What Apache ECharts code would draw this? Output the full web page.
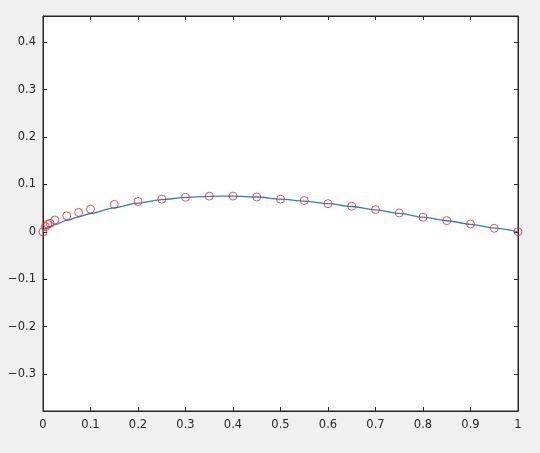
<!DOCTYPE html>
<html>
<head>
<meta charset="utf-8">
<script src="https://cdn.jsdelivr.net/npm/echarts@6/dist/echarts.min.js"></script>
<style>html,body{margin:0;padding:0;background:#f0f0f0}#c{width:540px;height:453px}</style>
</head>
<body>
<div id="c"></div>
<script>
// Data
const ptX = [0, 0.005, 0.01, 0.015, 0.025, 0.05, 0.075, 0.1, 0.15, 0.2, 0.25, 0.3, 0.35, 0.4, 0.45, 0.5, 0.55, 0.6, 0.65, 0.7, 0.75, 0.8, 0.85, 0.9, 0.95, 1.0];
const ptY = [0, 0.011, 0.016, 0.018, 0.025, 0.034, 0.041, 0.048, 0.058, 0.064, 0.069, 0.073, 0.0755, 0.0755, 0.0736, 0.069, 0.066, 0.0595, 0.054, 0.047, 0.040, 0.031, 0.0237, 0.0167, 0.0076, 0.0004];
const lineX = [0, 0.005, 0.0125, 0.025, 0.05, 0.075, 0.1, 0.15, 0.2, 0.25, 0.3, 0.35, 0.4, 0.45, 0.5, 0.55, 0.6, 0.65, 0.7, 0.75, 0.8, 0.85, 0.9, 0.95, 1.0];
const lineY = [0, 0.0062, 0.0102, 0.0152, 0.0242, 0.0318, 0.0388, 0.0508, 0.0605, 0.0680, 0.0728, 0.0750, 0.0755, 0.0736, 0.0692, 0.0650, 0.0595, 0.0535, 0.0465, 0.0390, 0.0310, 0.0235, 0.0160, 0.0078, 0];
const xTicks = [0, 0.1, 0.2, 0.3, 0.4, 0.5, 0.6, 0.7, 0.8, 0.9, 1];
const xTickLabels = ['0', '0.1', '0.2', '0.3', '0.4', '0.5', '0.6', '0.7', '0.8', '0.9', '1'];
const yTicks = [-0.3, -0.2, -0.1, 0, 0.1, 0.2, 0.3, 0.4];
const yTickLabels = ['\u22120.3', '\u22120.2', '\u22120.1', '0', '0.1', '0.2', '0.3', '0.4'];

function lookup(ticks, labels, v) {
  for (let i = 0; i < ticks.length; i++) if (Math.abs(ticks[i] - v) < 1e-6) return labels[i];
  return '';
}
const axColor = '#262626';
const font = { fontFamily: 'DejaVu Sans', fontSize: 11.5, color: '#262626' };
const chart = echarts.init(document.getElementById('c'), null, { renderer: 'canvas' });
const xBase = {
  type: 'value', min: 0, max: 1,
  axisLine: { show: true, onZero: false, lineStyle: { color: axColor, width: 1 } },
  splitLine: { show: false }
};
const yBase = {
  type: 'value', min: -0.378, max: 0.4555,
  axisLine: { show: true, onZero: false, lineStyle: { color: axColor, width: 1 } },
  splitLine: { show: false }
};
chart.setOption({
  backgroundColor: '#f0f0f0',
  animation: false,
  grid: { left: 43, top: 16, right: 22, bottom: 42, show: true, backgroundColor: '#ffffff', borderColor: axColor, borderWidth: 1, containLabel: false },
  xAxis: [
    Object.assign({}, xBase, {
      position: 'bottom',
      axisTick: { show: true, inside: true, length: 4, customValues: xTicks, lineStyle: { color: axColor } },
      axisLabel: Object.assign({ show: true, margin: 8, customValues: xTicks, formatter: v => lookup(xTicks, xTickLabels, v) }, font)
    }),
    Object.assign({}, xBase, {
      position: 'top',
      axisTick: { show: true, inside: true, length: 4, customValues: xTicks, lineStyle: { color: axColor } },
      axisLabel: { show: false }
    })
  ],
  yAxis: [
    Object.assign({}, yBase, {
      position: 'left',
      axisTick: { show: true, inside: true, length: 4, customValues: yTicks, lineStyle: { color: axColor } },
      axisLabel: Object.assign({ show: true, margin: 7, customValues: yTicks, formatter: v => lookup(yTicks, yTickLabels, v) }, font)
    }),
    Object.assign({}, yBase, {
      position: 'right',
      axisTick: { show: true, inside: true, length: 4, customValues: yTicks, lineStyle: { color: axColor } },
      axisLabel: { show: false }
    })
  ],
  series: [
    {
      type: 'line', smooth: 0.3, smoothMonotone: 'x', showSymbol: false,
      data: lineX.map((x, i) => [x, lineY[i]]),
      lineStyle: { color: '#2f80b5', width: 1.3 },
      z: 2
    },
    {
      type: 'scatter', symbol: 'circle', symbolSize: 8,
      data: ptX.map((x, i) => [x, ptY[i]]),
      itemStyle: { color: 'rgba(0,0,0,0)', borderColor: '#e0283c', borderWidth: 1 },
      z: 3
    }
  ]
});
</script>
</body>
</html>
